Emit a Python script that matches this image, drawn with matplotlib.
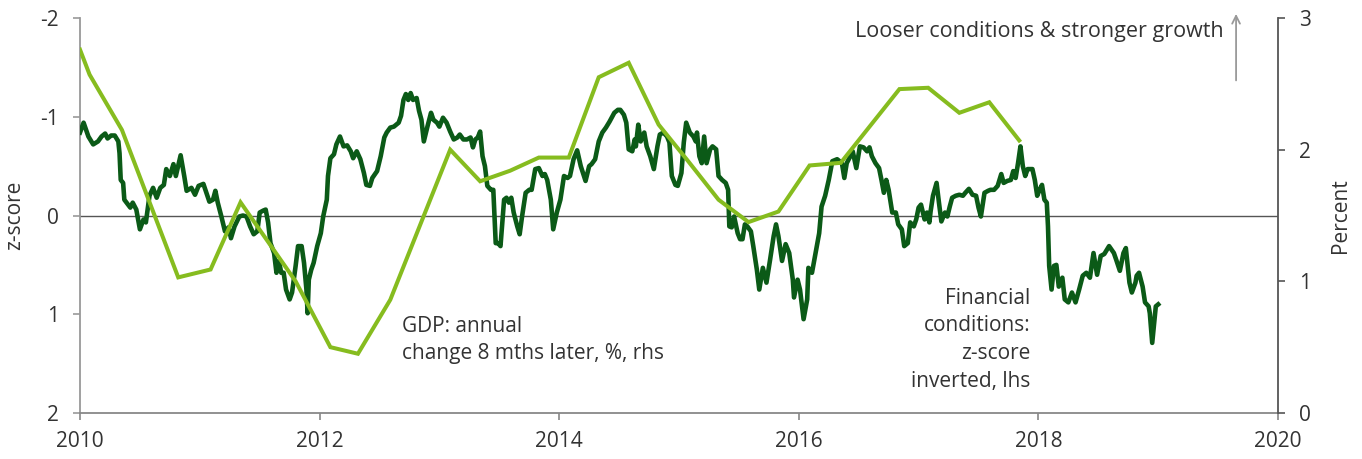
import numpy as np
import matplotlib
matplotlib.use("Agg")
import matplotlib.pyplot as plt

plt.rcParams["font.family"] = ["Open Sans", "DejaVu Sans"]
plt.rcParams["axes.unicode_minus"] = False

# GDP: annual change 8 months later, % (rhs)
gdp_x = [2010.0, 2010.08, 2010.35, 2010.82, 2011.09, 2011.34, 2011.8, 2012.09, 2012.32, 2012.59,
         2013.09, 2013.34, 2013.59, 2013.83, 2014.08, 2014.33, 2014.58, 2014.83, 2015.07, 2015.33,
         2015.58, 2015.83, 2016.09, 2016.35, 2016.84, 2017.08, 2017.34, 2017.59, 2017.84]
gdp_y = [2.76, 2.57, 2.15, 1.03, 1.09, 1.60, 1.0, 0.50, 0.45, 0.86,
         2.00, 1.76, 1.84, 1.94, 1.94, 2.55, 2.66, 2.19, 1.92, 1.62,
         1.45, 1.53, 1.88, 1.90, 2.46, 2.47, 2.28, 2.36, 2.07]

# Financial conditions z-score (plotted on inverted lhs)
fci_x = [2010.0, 2010.03, 2010.07, 2010.11, 2010.15, 2010.18, 2010.21, 2010.23, 2010.26, 2010.29,
         2010.32, 2010.33, 2010.34, 2010.36, 2010.37, 2010.42, 2010.44, 2010.47, 2010.5, 2010.53,
         2010.55, 2010.58, 2010.61, 2010.64, 2010.67, 2010.7, 2010.72, 2010.75, 2010.78, 2010.8,
         2010.84, 2010.87, 2010.89, 2010.93, 2010.96, 2010.99, 2011.03, 2011.06, 2011.08, 2011.11,
         2011.13, 2011.15, 2011.18, 2011.21, 2011.24, 2011.26, 2011.29, 2011.33, 2011.36, 2011.39,
         2011.42, 2011.45, 2011.48, 2011.5, 2011.53, 2011.55, 2011.57, 2011.59, 2011.62, 2011.64,
         2011.66, 2011.68, 2011.7, 2011.72, 2011.75, 2011.77, 2011.8, 2011.82, 2011.85, 2011.87,
         2011.89, 2011.9, 2011.91, 2011.93, 2011.95, 2011.98, 2012.01, 2012.03, 2012.06, 2012.07,
         2012.09, 2012.12, 2012.14, 2012.17, 2012.2, 2012.23, 2012.26, 2012.28, 2012.31, 2012.34,
         2012.37, 2012.39, 2012.42, 2012.44, 2012.48, 2012.51, 2012.54, 2012.56, 2012.59, 2012.62,
         2012.66, 2012.68, 2012.7, 2012.72, 2012.74, 2012.76, 2012.78, 2012.81, 2012.83, 2012.85,
         2012.87, 2012.9, 2012.93, 2012.95, 2012.98, 2013.0, 2013.03, 2013.06, 2013.09, 2013.12,
         2013.15, 2013.17, 2013.2, 2013.23, 2013.26, 2013.28, 2013.3, 2013.32, 2013.34, 2013.36,
         2013.38, 2013.4, 2013.43, 2013.45, 2013.47, 2013.49, 2013.51, 2013.54, 2013.56, 2013.58,
         2013.6, 2013.62, 2013.65, 2013.67, 2013.69, 2013.72, 2013.75, 2013.77, 2013.8, 2013.83,
         2013.86, 2013.88, 2013.9, 2013.93, 2013.95, 2013.98, 2014.01, 2014.04, 2014.07, 2014.09,
         2014.12, 2014.15, 2014.18, 2014.22, 2014.25, 2014.27, 2014.3, 2014.33, 2014.36, 2014.39,
         2014.42, 2014.46, 2014.49, 2014.51, 2014.54, 2014.56, 2014.58, 2014.61, 2014.63, 2014.64,
         2014.66, 2014.68, 2014.71, 2014.73, 2014.76, 2014.79, 2014.82, 2014.84, 2014.87, 2014.9,
         2014.92, 2014.94, 2014.97, 2014.99, 2015.02, 2015.04, 2015.06, 2015.09, 2015.12, 2015.14,
         2015.15, 2015.17, 2015.19, 2015.21, 2015.23, 2015.26, 2015.28, 2015.31, 2015.33, 2015.36,
         2015.39, 2015.41, 2015.42, 2015.44, 2015.46, 2015.49, 2015.51, 2015.53, 2015.55, 2015.57,
         2015.6, 2015.62, 2015.65, 2015.67, 2015.7, 2015.73, 2015.76, 2015.79, 2015.81, 2015.83,
         2015.86, 2015.89, 2015.92, 2015.95, 2015.96, 2015.99, 2016.01, 2016.03, 2016.04, 2016.07,
         2016.08, 2016.11, 2016.14, 2016.17, 2016.19, 2016.22, 2016.25, 2016.28, 2016.32, 2016.36,
         2016.38, 2016.4, 2016.43, 2016.45, 2016.48, 2016.51, 2016.54, 2016.57, 2016.59, 2016.61,
         2016.64, 2016.67, 2016.69, 2016.71, 2016.73, 2016.75, 2016.78, 2016.81, 2016.83, 2016.86,
         2016.88, 2016.91, 2016.93, 2016.96, 2016.98, 2017.0, 2017.02, 2017.05, 2017.07, 2017.09,
         2017.1, 2017.12, 2017.15, 2017.17, 2017.19, 2017.22, 2017.24, 2017.26, 2017.28, 2017.31,
         2017.34, 2017.37, 2017.39, 2017.42, 2017.45, 2017.48, 2017.5, 2017.52, 2017.55, 2017.58,
         2017.6, 2017.63, 2017.66, 2017.69, 2017.71, 2017.74, 2017.77, 2017.79, 2017.81, 2017.83,
         2017.85, 2017.87, 2017.89, 2017.91, 2017.95, 2017.97, 2017.99, 2018.01, 2018.03, 2018.05,
         2018.07, 2018.08, 2018.09, 2018.11, 2018.13, 2018.15, 2018.17, 2018.2, 2018.22, 2018.25,
         2018.28, 2018.31, 2018.34, 2018.37, 2018.4, 2018.43, 2018.46, 2018.49, 2018.52, 2018.55,
         2018.59, 2018.63, 2018.65, 2018.68, 2018.71, 2018.73, 2018.76, 2018.78, 2018.81, 2018.82,
         2018.84, 2018.87, 2018.89, 2018.92, 2018.93, 2018.95, 2018.97, 2018.98, 2019.0]
fci_y = [-0.84, -0.94, -0.80, -0.72, -0.75, -0.80, -0.83, -0.78, -0.81, -0.81,
         -0.75, -0.63, -0.36, -0.33, -0.16, -0.08, -0.13, -0.06, 0.14, 0.04,
         0.07, -0.20, -0.28, -0.18, -0.28, -0.31, -0.47, -0.40, -0.52, -0.40,
         -0.61, -0.40, -0.25, -0.28, -0.21, -0.30, -0.32, -0.21, -0.14, -0.16,
         -0.25, -0.13, 0.01, 0.16, 0.12, 0.23, 0.11, 0.01, 0.00, 0.01,
         0.11, 0.19, 0.16, -0.03, -0.05, -0.06, 0.07, 0.28, 0.38, 0.58,
         0.46, 0.58, 0.58, 0.75, 0.85, 0.78, 0.51, 0.31, 0.31, 0.48,
         0.75, 0.99, 0.65, 0.55, 0.48, 0.31, 0.18, 0.01, -0.16, -0.40,
         -0.58, -0.62, -0.72, -0.80, -0.70, -0.71, -0.65, -0.58, -0.65, -0.57,
         -0.43, -0.31, -0.30, -0.38, -0.45, -0.60, -0.79, -0.84, -0.89, -0.90,
         -0.94, -1.01, -1.17, -1.23, -1.17, -1.24, -1.17, -1.19, -1.06, -0.97,
         -0.75, -0.90, -1.04, -0.97, -0.94, -0.90, -0.99, -0.94, -0.85, -0.77,
         -0.79, -0.82, -0.77, -0.77, -0.79, -0.69, -0.77, -0.79, -0.85, -0.60,
         -0.50, -0.30, -0.26, -0.26, 0.28, 0.28, 0.31, -0.16, -0.18, -0.13,
         -0.18, -0.03, 0.11, 0.19, 0.01, -0.23, -0.26, -0.26, -0.47, -0.48,
         -0.40, -0.42, -0.36, -0.16, 0.14, -0.03, -0.16, -0.40, -0.38, -0.40,
         -0.57, -0.66, -0.50, -0.35, -0.50, -0.52, -0.57, -0.75, -0.84, -0.89,
         -0.95, -1.04, -1.07, -1.07, -1.02, -0.94, -0.67, -0.65, -0.77, -0.70,
         -0.92, -0.75, -0.84, -0.70, -0.60, -0.47, -0.70, -0.82, -0.84, -0.80,
         -0.74, -0.40, -0.31, -0.30, -0.43, -0.74, -0.94, -0.84, -0.80, -0.75,
         -0.84, -0.60, -0.53, -0.80, -0.53, -0.67, -0.70, -0.67, -0.40, -0.36,
         -0.33, -0.26, 0.11, 0.12, 0.01, 0.18, 0.24, 0.24, 0.09, 0.11,
         0.16, 0.31, 0.55, 0.75, 0.53, 0.68, 0.45, 0.21, 0.09, 0.21,
         0.46, 0.29, 0.38, 0.65, 0.83, 0.65, 0.75, 0.95, 1.05, 0.85,
         0.53, 0.58, 0.38, 0.18, -0.09, -0.20, -0.36, -0.55, -0.57, -0.53,
         -0.38, -0.53, -0.60, -0.65, -0.48, -0.70, -0.69, -0.65, -0.69, -0.60,
         -0.53, -0.48, -0.36, -0.23, -0.36, -0.26, -0.03, -0.03, 0.09, 0.14,
         0.31, 0.28, 0.07, 0.11, 0.04, -0.08, -0.11, 0.04, -0.03, 0.07,
         -0.04, -0.20, -0.33, -0.13, 0.06, -0.03, 0.01, -0.09, -0.18, -0.20,
         -0.21, -0.20, -0.23, -0.27, -0.21, -0.20, -0.08, 0.01, -0.23, -0.25,
         -0.26, -0.26, -0.30, -0.42, -0.33, -0.35, -0.36, -0.45, -0.38, -0.53,
         -0.70, -0.50, -0.40, -0.47, -0.47, -0.36, -0.20, -0.26, -0.31, -0.16,
         -0.13, 0.11, 0.51, 0.75, 0.51, 0.50, 0.72, 0.63, 0.85, 0.88,
         0.78, 0.88, 0.75, 0.61, 0.58, 0.63, 0.38, 0.60, 0.41, 0.39,
         0.31, 0.38, 0.45, 0.56, 0.38, 0.33, 0.68, 0.78, 0.68, 0.61,
         0.58, 0.72, 0.88, 0.92, 0.99, 1.29, 1.05, 0.92, 0.90]

x_ticks = [2010, 2012, 2014, 2016, 2018, 2020]
lhs_ticks = [-2, -1, 0, 1, 2]
rhs_ticks = [0, 1, 2, 3]

dark = "#0b5a17"
light = "#86bc1f"
txt = "#333333"

fig = plt.figure(figsize=(13.62, 4.59), dpi=100)
ax = fig.add_axes([80 / 1362, 46 / 459, 1198 / 1362, 395 / 459])
ax2 = ax.twinx()

ax.axhline(0, color="#555555", linewidth=1.0, zorder=1)
ax.plot(fci_x, fci_y, color=dark, linewidth=3.3, solid_joinstyle="round", zorder=3)
ax2.plot(gdp_x, gdp_y, color=light, linewidth=2.9, solid_joinstyle="miter", zorder=3)

ax.set_xlim(2010, 2020)
ax.set_ylim(2, -2)
ax2.set_ylim(0, 3)
ax.set_xticks(x_ticks)
ax.set_yticks(lhs_ticks)
ax2.set_yticks(rhs_ticks)

for a in (ax, ax2):
    a.spines["top"].set_visible(False)
ax.spines["right"].set_visible(False)
ax2.spines["left"].set_visible(False)
ax2.spines["bottom"].set_visible(False)
ax.spines["left"].set_color("#999999")
ax.spines["bottom"].set_color("#888888")
ax2.spines["right"].set_color("#555555")
for s in ("left", "bottom"):
    ax.spines[s].set_linewidth(1.3)
ax2.spines["right"].set_linewidth(1.3)

ax.tick_params(axis="y", direction="out", length=5, width=1.2, color="#999999",
               labelsize=15, labelcolor=txt, pad=10)
ax.tick_params(axis="x", direction="out", length=5, width=1.2, color="#888888",
               labelsize=15, labelcolor=txt, pad=8)
ax2.tick_params(axis="y", direction="out", length=5, width=1.2, color="#555555",
                labelsize=15, labelcolor=txt, pad=10)

ax.set_ylabel("z-score", fontsize=15, color=txt)
ax.yaxis.set_label_coords(-0.046, 0.5)
ax2.set_ylabel("Percent", fontsize=15, color=txt, labelpad=14)

ax.text(2012.69, 1.02, "GDP: annual\nchange 8 mths later, %, rhs", fontsize=15,
        color=txt, ha="left", va="top", linespacing=1.35, zorder=5)
ax.text(2017.93, 0.73, "Financial\nconditions:\nz-score\ninverted, lhs", fontsize=15,
        color=txt, ha="right", va="top", linespacing=1.42, zorder=5)
ax.text(2019.55, -1.86, "Looser conditions & stronger growth", fontsize=15.5,
        color=txt, ha="right", va="center", zorder=5)
ax.annotate("", xy=(2019.65, -2.07), xytext=(2019.65, -1.34),
            arrowprops=dict(arrowstyle="->", color="#999999", lw=1.3,
                            mutation_scale=14),
            annotation_clip=False)

fig.savefig("out.png", dpi=100)
